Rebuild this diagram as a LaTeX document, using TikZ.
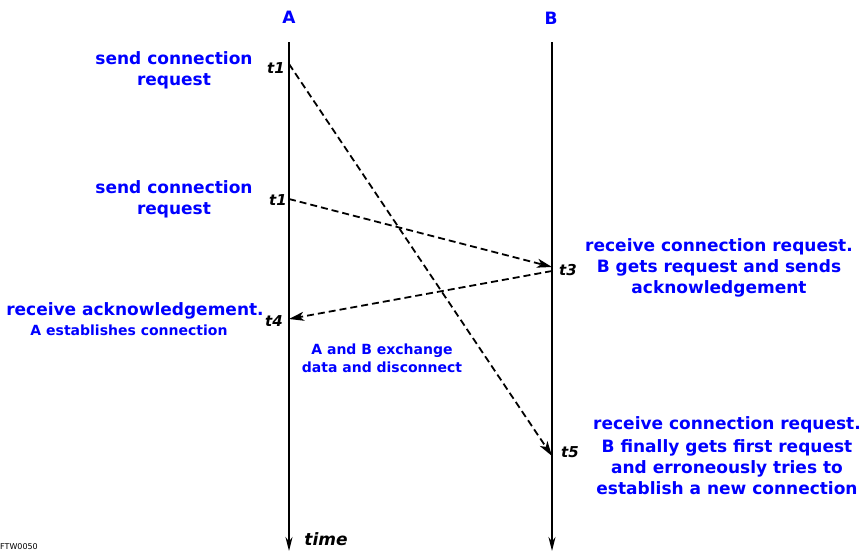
\documentclass[tikz,border=0pt]{standalone}
\usepackage{fontspec}
\setmainfont{DejaVu Sans}[BoldFont={DejaVu Sans Bold},BoldItalicFont={DejaVu Sans Bold Oblique}]
\usetikzlibrary{arrows.meta,positioning}

\begin{document}
\begin{tikzpicture}[x=1pt,y=-1pt,
    note/.style={text=blue, font=\bfseries\fontsize{17}{21}\selectfont, align=center, inner sep=0pt},
    smallnote/.style={text=blue, font=\bfseries\fontsize{14}{18}\selectfont, align=center, inner sep=0pt},
    tlab/.style={font=\bfseries\itshape\fontsize{15}{17}\selectfont, inner sep=0pt},
    life/.style={-{Stealth[length=14pt,width=7pt]}, line width=1.9pt},
    msg/.style={-{Stealth[length=15pt,width=9pt,inset=4pt]}, line width=1.8pt, dash pattern=on 7pt off 4pt}
  ]
  \useasboundingbox (0,0) rectangle (862,552);

  % time lines
  \coordinate (Atop) at (289,42);
  \coordinate (Abot) at (289,551);
  \coordinate (Btop) at (552,42);
  \coordinate (Bbot) at (552,551);
  \node[note] (A) at (289,17) {A};
  \node[note] (B) at (551,18) {B};
  \draw[life] (Atop) -- (Abot);
  \draw[life] (Btop) -- (Bbot);

  % event points
  \coordinate (s1) at (289,64);
  \coordinate (s2) at (289,199);
  \coordinate (r3) at (552,267);
  \coordinate (r3b) at (552,271);
  \coordinate (r4) at (289,319);
  \coordinate (r5) at (552,456);

  \node[tlab] (t1a) at (276,68) {t1};
  \node[tlab] (t1b) at (278,200) {t1};
  \node[tlab] (t3) at (568,270) {t3};
  \node[tlab] (t4) at (274,321) {t4};
  \node[tlab] (t5) at (570,452) {t5};
  \node[tlab, font=\bfseries\itshape\fontsize{17}{20}\selectfont] (time) at (326,539) {time};

  % messages
  \draw[msg] (s1) -- (r5);
  \draw[msg] (s2) -- (r3);
  \draw[msg] (r3b) -- (r4);

  % texts
  \node[note] (snd1) at (174,70) {send connection\\request};
  \node[note] (snd2) at (174,199) {send connection\\request};
  \node[note] (ack) at (135,311) {receive acknowledgement.};
  \node[smallnote] (ackb) at (129,330) {A establishes connection};
  \node[note] (rcv3) at (719,268) {receive connection request.\\B gets request and sends\\acknowledgement};
  \node[smallnote] (xch) at (382,358) {A and B exchange\\data and disconnect};
  \node[note] (rcv5) at (727,456) {receive connection request.\\[2pt]B finally gets first request\\and erroneously tries to\\establish a new connection};

  \node[anchor=west, inner sep=0pt, font=\fontsize{8}{8}\selectfont] (fig) at (0,547) {FTW0050};
\end{tikzpicture}
\end{document}
